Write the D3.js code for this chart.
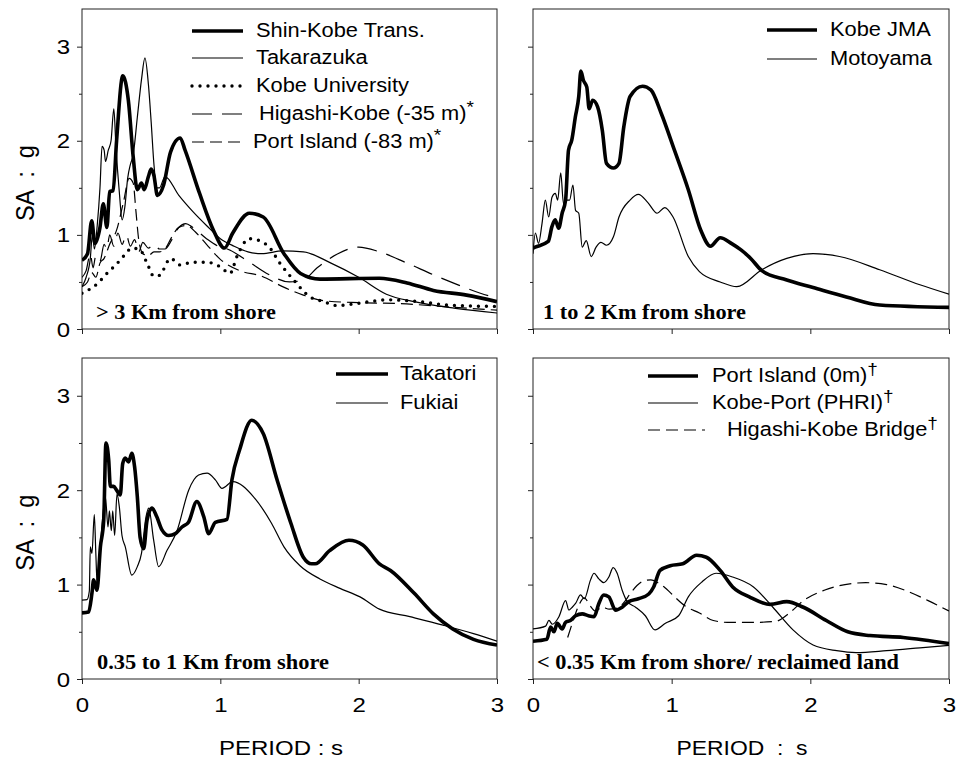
<!DOCTYPE html>
<html>
<head>
<meta charset="utf-8">
<script src="https://cdnjs.cloudflare.com/ajax/libs/d3/7.8.5/d3.min.js"></script>
<style>
  body { margin: 0; background: #fff; }
  svg { display: block; }
  text { font-family: Arial, "Liberation Sans", sans-serif; fill: #000; }
  .note { font-family: "Times New Roman", "Liberation Serif", serif; font-weight: bold; font-size: 22px; }
</style>
</head>
<body>
<svg id="chart" width="960" height="764"></svg>
<script>
// period (s), spectral acceleration (g)
const shinKobe = [[0,0.73],[0.04,0.8],[0.07,1.15],[0.094,0.91],[0.13,1.08],[0.154,1.33],[0.18,1.08],[0.2,1.46],[0.225,1.47],[0.25,2.0],[0.295,2.69],[0.335,2.43],[0.37,1.83],[0.4,1.48],[0.43,1.55],[0.45,1.48],[0.48,1.62],[0.5,1.7],[0.52,1.63],[0.545,1.42],[0.59,1.53],[0.64,1.88],[0.71,2.03],[0.745,1.9],[0.85,1.44],[0.95,1.05],[1.03,0.86],[1.09,1.02],[1.21,1.23],[1.31,1.19],[1.46,0.8],[1.58,0.59],[1.72,0.53],[2.15,0.54],[2.35,0.49],[2.54,0.41],[2.78,0.36],[3.0,0.29]];
const takarazuka = [[0,0.45],[0.03,0.55],[0.06,0.75],[0.075,1.0],[0.09,0.85],[0.11,1.1],[0.13,1.5],[0.145,1.94],[0.16,1.9],[0.17,1.78],[0.19,1.9],[0.21,2.0],[0.23,2.34],[0.245,1.95],[0.27,1.45],[0.29,1.16],[0.31,1.3],[0.33,1.6],[0.35,1.75],[0.37,1.85],[0.4,2.25],[0.43,2.65],[0.455,2.88],[0.48,2.6],[0.5,2.2],[0.52,1.75],[0.54,1.5],[0.56,1.5],[0.6,1.62],[0.7,1.42],[0.8,1.25],[0.9,1.1],[1.0,0.96],[1.1,0.88],[1.2,0.82],[1.3,0.8],[1.45,0.83],[1.6,0.82],[1.8,0.7],[2.0,0.55],[2.2,0.37],[2.4,0.29],[2.7,0.22],[3.0,0.17]];
const kobeUniv = [[0,0.38],[0.11,0.48],[0.18,0.59],[0.25,0.69],[0.31,0.79],[0.36,0.86],[0.42,0.84],[0.47,0.7],[0.52,0.56],[0.56,0.57],[0.64,0.75],[0.71,0.68],[0.8,0.71],[0.9,0.71],[1.0,0.66],[1.07,0.59],[1.12,0.77],[1.21,0.96],[1.34,0.89],[1.43,0.7],[1.53,0.52],[1.65,0.34],[1.75,0.29],[1.84,0.25],[2.08,0.29],[2.2,0.31],[2.44,0.29],[2.68,0.25],[3.0,0.24]];
const higashiKobe35 = [[0,0.55],[0.03,0.62],[0.06,0.8],[0.08,0.65],[0.1,0.78],[0.13,0.72],[0.16,0.9],[0.18,0.85],[0.2,1.0],[0.23,0.88],[0.26,1.02],[0.29,0.9],[0.32,1.0],[0.35,0.88],[0.38,0.95],[0.41,0.82],[0.44,0.92],[0.48,0.86],[0.52,0.9],[0.56,0.85],[0.6,0.85],[0.65,0.95],[0.7,1.08],[0.75,1.12],[0.8,1.08],[0.9,0.96],[1.0,0.87],[1.05,0.85],[1.2,0.72],[1.35,0.58],[1.5,0.5],[1.6,0.52],[1.7,0.65],[1.85,0.8],[2.0,0.87],[2.15,0.82],[2.35,0.7],[2.55,0.57],[2.7,0.48],[2.88,0.38],[3.0,0.33]];
const portIsland83 = [[0,0.45],[0.04,0.5],[0.07,0.6],[0.1,0.55],[0.13,0.7],[0.16,0.75],[0.2,0.9],[0.25,1.05],[0.3,1.35],[0.34,1.6],[0.37,1.55],[0.39,1.25],[0.41,0.95],[0.44,0.8],[0.48,0.78],[0.52,0.82],[0.56,0.82],[0.6,0.85],[0.65,0.98],[0.7,1.08],[0.76,1.1],[0.82,1.03],[0.9,0.9],[1.0,0.74],[1.14,0.62],[1.3,0.56],[1.45,0.45],[1.6,0.36],[1.75,0.3],[2.0,0.28],[2.3,0.27],[2.6,0.24],[3.0,0.2]];

const kobeJMA = [[0,0.86],[0.016,0.87],[0.11,0.93],[0.137,1.09],[0.16,1.16],[0.185,1.07],[0.21,1.23],[0.235,1.37],[0.256,1.9],[0.28,2.01],[0.305,2.25],[0.33,2.47],[0.345,2.74],[0.364,2.64],[0.388,2.57],[0.405,2.34],[0.43,2.43],[0.466,2.36],[0.5,2.11],[0.53,1.76],[0.58,1.71],[0.62,1.76],[0.655,2.15],[0.7,2.47],[0.79,2.58],[0.85,2.54],[0.925,2.29],[1.02,1.9],[1.12,1.48],[1.21,1.05],[1.28,0.88],[1.35,0.97],[1.43,0.91],[1.5,0.84],[1.57,0.75],[1.65,0.62],[1.83,0.52],[2.02,0.44],[2.26,0.34],[2.5,0.255],[3.0,0.23]];
const motoyama = [[0,0.8],[0.017,1.02],[0.04,0.91],[0.065,1.12],[0.089,1.37],[0.113,1.19],[0.137,1.4],[0.161,1.44],[0.178,1.37],[0.2,1.66],[0.22,1.33],[0.24,1.37],[0.264,1.37],[0.288,1.53],[0.307,1.26],[0.33,1.23],[0.355,0.87],[0.384,0.94],[0.42,0.77],[0.455,0.87],[0.49,0.92],[0.53,0.89],[0.58,0.98],[0.62,1.19],[0.7,1.37],[0.76,1.43],[0.83,1.34],[0.895,1.23],[0.95,1.29],[1.01,1.19],[1.12,0.77],[1.2,0.61],[1.35,0.5],[1.47,0.45],[1.65,0.63],[1.83,0.75],[2.02,0.8],[2.21,0.77],[2.5,0.63],[2.79,0.47],[3.0,0.37]];

const takatori = [[0,0.7],[0.048,0.71],[0.072,0.91],[0.084,1.05],[0.108,0.94],[0.133,1.4],[0.157,1.68],[0.173,2.5],[0.193,2.32],[0.205,2.04],[0.229,2.04],[0.25,2.0],[0.277,1.95],[0.294,2.28],[0.313,2.34],[0.337,2.3],[0.36,2.39],[0.38,2.25],[0.4,1.93],[0.42,1.5],[0.446,1.38],[0.47,1.68],[0.506,1.81],[0.54,1.72],[0.578,1.58],[0.627,1.52],[0.675,1.54],[0.723,1.61],[0.77,1.66],[0.83,1.88],[0.88,1.72],[0.916,1.54],[0.964,1.66],[1.048,1.69],[1.084,2.11],[1.14,2.43],[1.227,2.74],[1.31,2.6],[1.41,2.11],[1.51,1.65],[1.6,1.29],[1.66,1.22],[1.685,1.22],[1.79,1.36],[1.93,1.47],[2.03,1.42],[2.15,1.22],[2.23,1.15],[2.4,0.91],[2.54,0.69],[2.68,0.53],[2.83,0.42],[3.0,0.36]];
const fukiai = [[0,0.835],[0.036,0.84],[0.053,0.93],[0.06,1.4],[0.072,1.33],[0.089,1.74],[0.1,1.33],[0.11,1.0],[0.145,1.64],[0.169,1.93],[0.188,1.61],[0.198,1.78],[0.212,1.57],[0.222,1.78],[0.236,1.52],[0.253,1.96],[0.27,1.82],[0.289,1.52],[0.313,1.4],[0.36,1.1],[0.4,1.19],[0.43,1.33],[0.463,1.72],[0.482,1.81],[0.518,1.47],[0.554,1.19],[0.614,1.36],[0.687,1.57],[0.771,2.0],[0.843,2.16],[0.904,2.18],[0.964,2.11],[1.012,2.02],[1.09,2.09],[1.24,1.93],[1.37,1.65],[1.46,1.4],[1.576,1.2],[1.72,1.06],[1.865,0.96],[2.01,0.87],[2.15,0.74],[2.37,0.66],[2.61,0.57],[2.83,0.48],[3.0,0.4]];

const portIsland0 = [[0,0.4],[0.1,0.42],[0.127,0.55],[0.151,0.5],[0.175,0.59],[0.21,0.53],[0.235,0.6],[0.27,0.62],[0.307,0.67],[0.355,0.69],[0.4,0.67],[0.44,0.66],[0.475,0.8],[0.51,0.89],[0.547,0.87],[0.595,0.73],[0.643,0.76],[0.69,0.82],[0.76,0.85],[0.835,0.9],[0.87,0.975],[0.916,1.15],[0.99,1.2],[1.08,1.22],[1.18,1.31],[1.25,1.29],[1.35,1.15],[1.44,0.975],[1.56,0.87],[1.71,0.79],[1.83,0.82],[1.95,0.76],[2.115,0.62],[2.27,0.5],[2.43,0.46],[2.67,0.44],[3.0,0.375]];
const kobePort = [[0,0.53],[0.091,0.56],[0.115,0.62],[0.14,0.58],[0.187,0.66],[0.235,0.83],[0.259,0.73],[0.283,0.76],[0.307,0.8],[0.343,0.89],[0.37,0.85],[0.415,1.05],[0.44,1.12],[0.475,1.06],[0.51,1.02],[0.547,1.08],[0.578,1.18],[0.607,1.12],[0.643,0.94],[0.68,0.82],[0.74,0.76],[0.81,0.67],[0.88,0.52],[0.955,0.59],[1.05,0.67],[1.12,0.87],[1.22,1.03],[1.32,1.12],[1.44,1.08],[1.59,0.975],[1.73,0.76],[1.875,0.52],[2.02,0.36],[2.19,0.3],[2.33,0.28],[2.55,0.3],[2.79,0.33],[3.0,0.357]];
const higashiBridge = [[0.25,0.44],[0.29,0.62],[0.33,0.78],[0.37,0.86],[0.41,0.78],[0.45,0.72],[0.5,0.76],[0.55,0.74],[0.6,0.75],[0.65,0.8],[0.7,0.9],[0.75,0.99],[0.8,1.04],[0.85,1.05],[0.9,1.02],[0.95,0.97],[1.0,0.9],[1.1,0.77],[1.2,0.7],[1.3,0.62],[1.4,0.6],[1.6,0.6],[1.75,0.61],[1.85,0.7],[1.95,0.83],[2.1,0.94],[2.25,1.0],[2.4,1.02],[2.55,1.0],[2.7,0.93],[2.85,0.83],[3.0,0.72]];

const periodTicks = [0, 1, 2, 3];
const saTicks = [0, 1, 2, 3];
const saMinor = [0.5, 1.5, 2.5];

const styles = {
  thick:    {w: 3.6, dash: null},
  thin:     {w: 1.2, dash: null},
  dot:      {w: 3.4, dash: '0 8', cap: 'round'},
  longdash: {w: 1.2, dash: '20 10'},
  dash:     {w: 1.2, dash: '12 6'}
};

const panels = [
  {x: [82, 497], y: [9, 329], showY: true, showX: false,
   note: '> 3 Km from shore', noteX: 96, noteW: 180,
   series: [
     {name: 'Shin-Kobe Trans.', data: shinKobe, style: 'thick', ly: 31, tx: 256},
     {name: 'Takarazuka', data: takarazuka, style: 'thin', ly: 58, tx: 256},
     {name: 'Kobe University', data: kobeUniv, style: 'dot', ly: 86, tx: 256},
     {name: 'Higashi-Kobe (-35 m)', sup: '*', data: higashiKobe35, style: 'longdash', ly: 114, tx: 259},
     {name: 'Port Island (-83 m)', sup: '*', data: portIsland83, style: 'dash', ly: 142, tx: 253}
   ], lx: [192, 243]},
  {x: [533, 949], y: [9, 329], showY: false, showX: false,
   note: '1 to 2 Km from shore', noteX: 543, noteW: 203,
   series: [
     {name: 'Kobe JMA', data: kobeJMA, style: 'thick', ly: 30, tx: 830},
     {name: 'Motoyama', data: motoyama, style: 'thin', ly: 59, tx: 830}
   ], lx: [767, 817]},
  {x: [82, 497], y: [358, 679], showY: true, showX: true, title: 'PERIOD : s', titleX: 281, titleW: 124,
   note: '0.35 to 1 Km from shore', noteX: 97, noteW: 232,
   series: [
     {name: 'Takatori', data: takatori, style: 'thick', ly: 374, tx: 400},
     {name: 'Fukiai', data: fukiai, style: 'thin', ly: 403, tx: 400}
   ], lx: [336, 388]},
  {x: [533, 949], y: [358, 679], showY: false, showX: true, title: 'PERIOD  :  s', titleX: 742, titleW: 131,
   note: '< 0.35 Km from shore/ reclaimed land', noteX: 537, noteW: 362,
   series: [
     {name: 'Port Island (0m)', sup: '\u2020', data: portIsland0, style: 'thick', ly: 376, tx: 712},
     {name: 'Kobe-Port (PHRI)', sup: '\u2020', data: kobePort, style: 'thin', ly: 403, tx: 712},
     {name: 'Higashi-Kobe Bridge', sup: '\u2020', data: higashiBridge, style: 'dash', ly: 430, tx: 727, lx2: 705}
   ], lx: [648, 698]}
];

const svg = d3.select('#chart');

function widen(sel, k) {
  sel.each(function () {
    const len = this.getComputedTextLength();
    d3.select(this).attr('textLength', len * k).attr('lengthAdjust', 'spacingAndGlyphs');
  });
}

function applyStyle(path, s) {
  path.attr('fill', 'none')
      .attr('stroke', '#000')
      .attr('stroke-width', s.w)
      .attr('stroke-linejoin', 'round')
      .attr('stroke-linecap', s.cap || 'butt');
  if (s.dash) path.attr('stroke-dasharray', s.dash);
}

panels.forEach((p, i) => {
  const xs = d3.scaleLinear().domain([0, 3]).range(p.x);
  const ys = d3.scaleLinear().domain([0, 3.4]).range([p.y[1], p.y[0]]);
  const g = svg.append('g');

  g.append('clipPath').attr('id', 'clip' + i)
    .append('rect').attr('x', p.x[0]).attr('y', p.y[0])
    .attr('width', p.x[1] - p.x[0]).attr('height', p.y[1] - p.y[0]);

  // y axis: major + minor ticks
  const yAxis = g.append('g').attr('transform', 'translate(' + p.x[0] + ',0)')
    .call(d3.axisLeft(ys).tickValues(saTicks).tickSize(5).tickSizeOuter(0)
      .tickFormat(p.showY ? d3.format('d') : ''));
  yAxis.select('.domain').remove();
  yAxis.selectAll('text').attr('font-size', 20).attr('font-family', null).attr('x', -12).attr('dy', '0.35em');
  g.append('g').attr('transform', 'translate(' + p.x[0] + ',0)')
    .call(d3.axisLeft(ys).tickValues(saMinor).tickSize(3).tickFormat(''))
    .select('.domain').remove();

  const xAxis = g.append('g').attr('transform', 'translate(0,' + p.y[1] + ')')
    .call(d3.axisBottom(xs).tickValues(periodTicks).tickSize(5).tickSizeOuter(0)
      .tickFormat(p.showX ? d3.format('d') : ''));
  xAxis.select('.domain').remove();
  xAxis.selectAll('text').attr('font-size', 20).attr('font-family', null).attr('y', 19);
  g.selectAll('.tick line').attr('stroke', '#222');

  widen(yAxis.selectAll('text'), 1.2);
  widen(xAxis.selectAll('text'), 1.2);

  g.append('rect')
    .attr('x', p.x[0]).attr('y', p.y[0])
    .attr('width', p.x[1] - p.x[0]).attr('height', p.y[1] - p.y[0])
    .attr('fill', 'none').attr('stroke', '#222').attr('stroke-width', 1);

  const line = d3.line().x(d => xs(d[0])).y(d => ys(d[1])).curve(d3.curveMonotoneX);
  const plot = g.append('g').attr('clip-path', 'url(#clip' + i + ')');
  p.series.forEach(s => {
    applyStyle(plot.append('path').datum(s.data).attr('d', line), styles[s.style]);

    // legend entry
    applyStyle(g.append('line')
      .attr('x1', p.lx[0]).attr('x2', s.lx2 || p.lx[1])
      .attr('y1', s.ly).attr('y2', s.ly), styles[s.style]);
    const t = g.append('text').attr('x', s.tx).attr('y', s.ly + 6).attr('font-size', 19.5).text(s.name);
    if (s.sup) t.append('tspan').attr('dy', -7).attr('font-size', 17).text(s.sup);
    widen(t, 1.12);
  });

  g.append('text').attr('class', 'note')
    .attr('x', p.noteX).attr('y', p.y[1] - 10)
    .attr('textLength', p.noteW).attr('lengthAdjust', 'spacingAndGlyphs')
    .text(p.note);

  if (p.showY) {
    g.append('text')
      .attr('transform', 'translate(34,' + (ys(1.55)) + ') scale(1.15,1) rotate(-90)')
      .attr('text-anchor', 'middle').attr('font-size', 22)
      .attr('textLength', 76).attr('lengthAdjust', 'spacingAndGlyphs')
      .style('white-space', 'pre')
      .text('SA  :  g');
  }
  if (p.title) {
    g.append('text')
      .attr('x', p.titleX).attr('y', 755)
      .attr('text-anchor', 'middle').attr('font-size', 21)
      .attr('textLength', p.titleW).attr('lengthAdjust', 'spacingAndGlyphs')
      .style('white-space', 'pre')
      .text(p.title);
  }
});
</script>
</body>
</html>
